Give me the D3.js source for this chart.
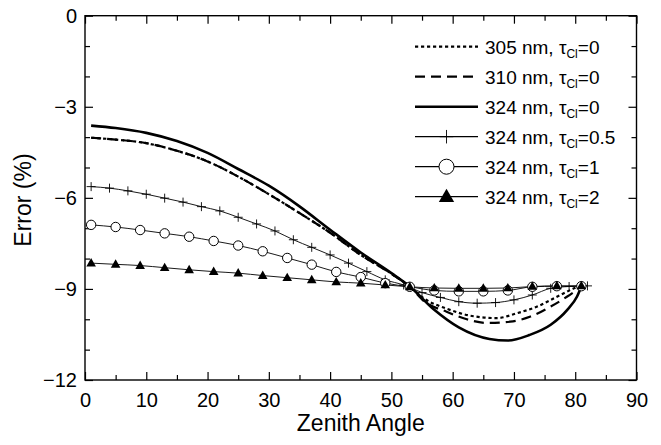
<!DOCTYPE html>
<html>
<head>
<meta charset="utf-8">
<script src="https://cdn.jsdelivr.net/npm/d3@7"></script>
<style>
  html, body { margin: 0; padding: 0; background: #fff; }
  svg { display: block; }
  text { font-family: "Liberation Sans", Arial, Helvetica, sans-serif; fill: #000; }
</style>
</head>
<body>
<svg id="chart" width="661" height="445"></svg>
<script>
// Zenith angles (degrees) and relative errors (%) for each case
const zen305 = [1, 5, 10, 15, 20, 25, 30, 35, 40, 45, 50, 53, 55.3, 59, 63.4, 67.2, 70.5, 73.8, 77.1, 79.8, 80.5];
const err305 = [-4.02, -4.08, -4.2, -4.45, -4.8, -5.3, -5.88, -6.5, -7.15, -7.88, -8.5, -8.92, -9.31, -9.65, -9.9, -9.96, -9.8, -9.58, -9.25, -8.98, -8.92];

const zen310 = [1, 5, 10, 15, 20, 25, 30, 35, 40, 45, 50, 53, 55.3, 59, 62.3, 65.6, 69.4, 72.7, 76, 78.7, 80.6, 81];
const err310 = [-4.02, -4.08, -4.2, -4.45, -4.8, -5.3, -5.88, -6.5, -7.15, -7.88, -8.5, -8.92, -9.4, -9.75, -10.0, -10.12, -10.08, -9.91, -9.58, -9.25, -8.98, -8.92];

const zen324 = [1, 5, 10, 15, 20, 25, 30, 35, 40, 45, 50, 53, 57, 61, 66, 69, 72.5, 76, 78.7, 80.3, 81];
const err324 = [-3.62, -3.7, -3.86, -4.13, -4.52, -5.05, -5.6, -6.28, -7.05, -7.8, -8.48, -8.92, -9.69, -10.27, -10.65, -10.7, -10.52, -10.18, -9.69, -9.25, -8.92];

const zenCl05 = [1, 4, 7, 10, 13, 16, 19, 22, 25, 28, 31, 34, 37, 40, 43, 46, 49, 52, 55, 58, 61, 64, 67, 70, 73, 76, 79, 82];
const errCl05 = [-5.63, -5.68, -5.77, -5.88, -6.01, -6.14, -6.29, -6.43, -6.64, -6.86, -7.09, -7.38, -7.63, -7.88, -8.15, -8.43, -8.7, -8.87, -9.12, -9.28, -9.42, -9.47, -9.45, -9.36, -9.2, -8.98, -8.92, -8.9];

const zenCl1 = [1, 5, 9, 13, 17, 21, 25, 29, 33, 37, 41, 45, 49, 53, 57, 61, 65, 69, 73, 77, 81];
const errCl1 = [-6.89, -6.96, -7.06, -7.17, -7.28, -7.42, -7.57, -7.76, -7.98, -8.2, -8.44, -8.61, -8.81, -8.93, -9.05, -9.08, -9.08, -9.05, -8.93, -8.91, -8.91];

const zenCl2 = [1, 5, 9, 13, 17, 21, 25, 29, 33, 37, 41, 45, 49, 53, 57, 61, 65, 69, 73, 77, 81];
const errCl2 = [-8.15, -8.19, -8.23, -8.3, -8.37, -8.43, -8.48, -8.56, -8.63, -8.7, -8.77, -8.81, -8.87, -8.93, -8.97, -8.98, -8.98, -8.97, -8.92, -8.9, -8.9];

// Axis ticks
const xMajor = [0, 10, 20, 30, 40, 50, 60, 70, 80, 90];
const xMinor = [5, 15, 25, 35, 45, 55, 65, 75, 85];
const yMajor = [0, -3, -6, -9, -12];
const yMinor = [-1, -2, -4, -5, -7, -8, -10, -11];

// Legend labels
const legendNm = ["305 nm, ", "310 nm, ", "324 nm, ", "324 nm, ", "324 nm, ", "324 nm, "];
const legendTau = ["0", "0", "0", "0.5", "1", "2"];

const svg = d3.select("#chart");
const plotL = 85, plotR = 636.5, plotT = 15.7, plotB = 380;

const x = d3.scaleLinear().domain([0, 90]).range([plotL, plotR]);
const y = d3.scaleLinear().domain([-12, 0]).range([plotB, plotT]);

const series = [
  { zen: zen305, err: err305, width: 2.2, dash: "3.2,2.8", marker: null },
  { zen: zen310, err: err310, width: 2.2, dash: "10,6", marker: null },
  { zen: zen324, err: err324, width: 2.6, dash: null, marker: null },
  { zen: zenCl05, err: errCl05, width: 0.9, dash: null, marker: "plus" },
  { zen: zenCl1, err: errCl1, width: 0.9, dash: null, marker: "circle" },
  { zen: zenCl2, err: errCl2, width: 0.9, dash: null, marker: "triangle" }
];

// Axes: inward ticks on all four sides
function clean(g) { g.select(".domain").remove(); }
const fontTick = "20px";

svg.append("g").attr("transform", `translate(0,${plotB})`)
  .call(d3.axisBottom(x).tickValues(xMajor).tickSize(-8).tickPadding(12.5))
  .call(clean)
  .call(g => g.selectAll("text").style("font-size", fontTick).attr("font-family", null));
svg.append("g").attr("transform", `translate(0,${plotB})`)
  .call(d3.axisBottom(x).tickValues(xMinor).tickSize(-5).tickFormat(""))
  .call(clean);
svg.append("g").attr("transform", `translate(0,${plotT})`)
  .call(d3.axisTop(x).tickValues(xMajor).tickSize(-8).tickFormat(""))
  .call(clean);
svg.append("g").attr("transform", `translate(0,${plotT})`)
  .call(d3.axisTop(x).tickValues(xMinor).tickSize(-5).tickFormat(""))
  .call(clean);

svg.append("g").attr("transform", `translate(${plotL},0)`)
  .call(d3.axisLeft(y).tickValues(yMajor).tickSize(-8).tickPadding(8).tickFormat(d3.format("d")))
  .call(clean)
  .call(g => g.selectAll("text").style("font-size", fontTick).attr("font-family", null));
svg.append("g").attr("transform", `translate(${plotL},0)`)
  .call(d3.axisLeft(y).tickValues(yMinor).tickSize(-5).tickFormat(""))
  .call(clean);
svg.append("g").attr("transform", `translate(${plotR},0)`)
  .call(d3.axisRight(y).tickValues(yMajor).tickSize(-8).tickFormat(""))
  .call(clean);
svg.append("g").attr("transform", `translate(${plotR},0)`)
  .call(d3.axisRight(y).tickValues(yMinor).tickSize(-5).tickFormat(""))
  .call(clean);

svg.selectAll(".tick line").attr("stroke", "#000").attr("stroke-width", 1.2);

// Frame
svg.append("rect")
  .attr("x", plotL).attr("y", plotT)
  .attr("width", plotR - plotL).attr("height", plotB - plotT)
  .attr("fill", "none").attr("stroke", "#000").attr("stroke-width", 1.4);

// Axis titles
svg.append("text")
  .attr("x", (plotL + plotR) / 2).attr("y", 431)
  .attr("text-anchor", "middle").style("font-size", "23px")
  .text("Zenith Angle");
svg.append("text")
  .attr("transform", "translate(31,200) rotate(-90)")
  .attr("text-anchor", "middle").style("font-size", "23px")
  .text("Error (%)");

// Marker shapes
function drawMarker(g, type, cx, cy, s) {
  if (type === "plus") {
    g.append("path")
      .attr("d", `M${cx - 4.5 * s},${cy}H${cx + 4.5 * s}M${cx},${cy - 4.5 * s}V${cy + 4.5 * s}`)
      .attr("stroke", "#000").attr("stroke-width", 0.9).attr("fill", "none");
  } else if (type === "circle") {
    g.append("circle").attr("cx", cx).attr("cy", cy).attr("r", 4.7 * s)
      .attr("fill", "#fff").attr("stroke", "#000").attr("stroke-width", 1);
  } else if (type === "triangle") {
    const w = 4.8 * s, h = 8.4 * s;
    g.append("path")
      .attr("d", `M${cx},${cy - h * 0.6}L${cx + w},${cy + h * 0.4}L${cx - w},${cy + h * 0.4}Z`)
      .attr("fill", "#000");
  }
}

// Curves
const line = d3.line().curve(d3.curveMonotoneX);
const plot = svg.append("g");
series.forEach(s => {
  const pts = s.zen.map((z, i) => [x(z), y(s.err[i])]);
  plot.append("path")
    .attr("d", line(pts))
    .attr("fill", "none").attr("stroke", "#000")
    .attr("stroke-width", s.width)
    .attr("stroke-dasharray", s.dash)
    .attr("stroke-linejoin", "round");
});
series.forEach(s => {
  if (!s.marker) return;
  const mg = plot.append("g");
  s.zen.forEach((z, i) => drawMarker(mg, s.marker, x(z), y(s.err[i]), 1));
});

// Legend
const lg = svg.append("g");
series.forEach((s, i) => {
  const cy = 46.7 + 30 * i;
  lg.append("line")
    .attr("x1", 415).attr("x2", 478).attr("y1", cy).attr("y2", cy)
    .attr("stroke", "#000").attr("stroke-width", s.marker ? 1.2 : s.width)
    .attr("stroke-dasharray", s.dash);
  if (s.marker) drawMarker(lg, s.marker, 446.5, cy, s.marker === "plus" ? 1.5 : 1.6);
  const t = lg.append("text").attr("x", 485).attr("y", cy + 7).style("font-size", "19px");
  t.append("tspan").text(legendNm[i] + "τ");
  t.append("tspan").attr("dy", 4).style("font-size", "12px").text("Cl");
  t.append("tspan").attr("dy", -4).text("=" + legendTau[i]);
});
</script>
</body>
</html>
